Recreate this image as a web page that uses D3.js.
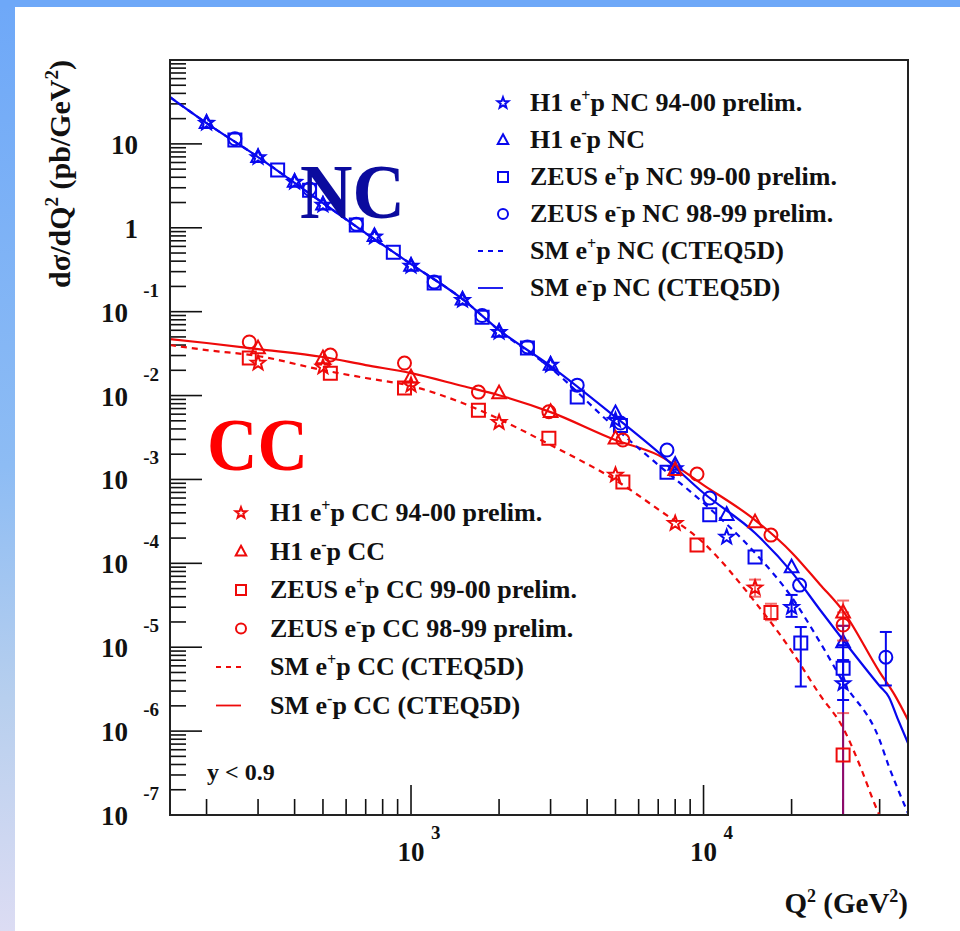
<!DOCTYPE html>
<html>
<head>
<meta charset="utf-8">
<script src="https://cdn.jsdelivr.net/npm/d3@7"></script>
<style>
  body { margin: 0; background: #fff; }
  text { font-family: "Liberation Serif", "Times New Roman", serif; font-weight: bold; fill: #111; }
</style>
</head>
<body>
<script>
// ---------- data (Q^2 in GeV^2, dsigma/dQ^2 in pb/GeV^2) ----------

// NC, H1 e+p 94-00 (open stars)
let ncH1PosQ2 = [200, 300, 400, 500, 750, 1000, 1500, 2000, 3000, 5000, 8000, 12000, 20000, 30000];
let ncH1PosXs = [17.7, 6.9, 3.5, 1.87, 0.78, 0.35, 0.137, 0.057, 0.0231, 0.0051, 0.00135, 0.000206, 3.0e-5, 3.7e-6];
let ncH1PosErr = [null, null, null, null, null, null, null, null, null, null, null, null, [2.3e-5, 4.2e-5], [1e-8, 7e-6]];

// NC, H1 e-p (open triangles)
let ncH1NegQ2 = [200, 300, 400, 500, 750, 1000, 1500, 2000, 3000, 5000, 8000, 12000, 20000, 30000];
let ncH1NegXs = [17.9, 7.0, 3.55, 1.9, 0.8, 0.355, 0.14, 0.058, 0.0235, 0.0062, 0.0015, 0.00038, 9.0e-5, 1.15e-5];
let ncH1NegErr = [null, null, null, null, null, null, null, null, null, null, null, null, null, [7e-6, 1.8e-5]];

// NC, ZEUS e+p 99-00 (open squares)
let ncZeusPosQ2 = [250, 350, 450, 650, 870, 1200, 1750, 2500, 3700, 5200, 7500, 10500, 15000, 21500, 30000];
let ncZeusPosXs = [11.1, 4.9, 2.8, 1.08, 0.51, 0.219, 0.086, 0.0368, 0.0096, 0.0044, 0.00122, 0.00038, 0.000119, 1.12e-5, 5.6e-6];
let ncZeusPosErr = [null, null, null, null, null, null, null, null, null, null, null, null, null, [3.4e-6, 1.74e-5], [2.35e-6, 1.06e-5]];

// NC, ZEUS e-p 98-99 (open circles)
let ncZeusNegQ2 = [250, 450, 650, 1200, 1750, 2500, 3700, 5200, 7500, 10500, 21300, 42000];
let ncZeusNegXs = [11.5, 2.9, 1.1, 0.225, 0.09, 0.038, 0.0133, 0.0047, 0.00224, 0.0006, 5.5e-5, 7.6e-6];
let ncZeusNegErr = [null, null, null, null, null, null, null, null, null, null, null, [3.5e-6, 1.52e-5]];

// CC, H1 e+p 94-00 (open stars)
let ccH1PosQ2 = [300, 500, 1000, 2000, 5000, 8000, 15000];
let ccH1PosXs = [0.0244, 0.0219, 0.0133, 0.0048, 0.00113, 0.0003, 5.1e-5];
let ccH1PosErr = [null, null, null, null, null, null, [4e-5, 6.4e-5]];

// CC, H1 e-p (open triangles)
let ccH1NegQ2 = [300, 500, 1000, 2000, 3000, 5000, 8000, 15000, 30000];
let ccH1NegXs = [0.0368, 0.028, 0.0166, 0.0107, 0.0064, 0.0031, 0.0013, 0.00031, 2.6e-5];
let ccH1NegErr = [null, null, null, null, null, null, null, null, [1.8e-5, 3.6e-5]];

// CC, ZEUS e+p 99-00 (open squares)
let ccZeusPosQ2 = [280, 530, 950, 1700, 2960, 5300, 9500, 17000, 30000];
let ccZeusPosXs = [0.028, 0.0185, 0.0123, 0.0067, 0.0031, 0.00093, 0.000165, 2.6e-5, 5.2e-7];
let ccZeusPosErr = [null, null, null, null, null, null, null, [2.1e-5, 3.3e-5], [1e-8, 1.64e-6]];

// CC, ZEUS e-p 98-99 (open circles)
let ccZeusNegQ2 = [280, 530, 950, 1700, 2960, 5300, 9500, 17000, 30000];
let ccZeusNegXs = [0.0435, 0.0304, 0.0244, 0.011, 0.0064, 0.00295, 0.00116, 0.000217, 1.84e-5];
let ccZeusNegErr = [null, null, null, null, null, null, null, null, [1.2e-5, 2.6e-5]];

// Standard Model curves (CTEQ5D)
let ncSmQ2 = [150, 200, 300, 500, 700, 1000, 1500, 2000, 3000, 5000, 7000, 10000, 15000, 20000, 25000, 30000, 40000, 43000, 46000, 50000];
let ncSmNeg = [36.1, 17.7, 6.97, 1.97, 0.865, 0.369, 0.141, 0.0604, 0.0225, 0.00555, 0.00212, 0.000689, 0.00023, 7.9e-5, 2.8e-5, 1.22e-5, 3.45e-6, 2.55e-6, 1.43e-6, 7.2e-7];
let ncSmPos = [36.1, 17.7, 6.97, 1.97, 0.865, 0.369, 0.141, 0.060, 0.0213, 0.0041, 0.00149, 0.000524, 0.000133, 3.96e-5, 1.15e-5, 3.85e-6, 7.8e-7, 3.8e-7, 2.1e-7, 1.05e-7];
let ccSmNegQ2 = [150, 200, 300, 500, 700, 1000, 1500, 2000, 3000, 5000, 7000, 10000, 15000, 20000, 25000, 30000, 40000, 45000, 50000];
let ccSmNeg = [0.0471, 0.0423, 0.0358, 0.0288, 0.0231, 0.0185, 0.013, 0.0101, 0.00635, 0.00295, 0.00195, 0.000857, 0.000328, 0.000135, 5.6e-5, 2.7e-5, 5.06e-6, 2.7e-6, 1.36e-6];
let ccSmPosQ2 = [150, 200, 300, 500, 700, 1000, 1500, 2000, 3000, 5000, 7000, 10000, 15000, 20000, 25000, 30000, 35000, 38000, 41000];
let ccSmPos = [0.04, 0.0348, 0.0296, 0.0201, 0.0162, 0.013, 0.00815, 0.00525, 0.00257, 0.00098, 0.00044, 0.000175, 3.46e-5, 9.0e-6, 2.7e-6, 1.09e-6, 3.2e-7, 1.5e-7, 8e-8];

// axis labels
let yLabelExps = [-7, -6, -5, -4, -3, -2, -1, 0, 1];
let xLabelExps = [3, 4];

let ncLegendLabels = ["H1 e^{+}p NC 94-00 prelim.", "H1 e^{-}p NC", "ZEUS e^{+}p NC 99-00 prelim.", "ZEUS e^{-}p NC 98-99 prelim.", "SM e^{+}p NC (CTEQ5D)", "SM e^{-}p NC (CTEQ5D)"];
let ccLegendLabels = ["H1 e^{+}p CC 94-00 prelim.", "H1 e^{-}p CC", "ZEUS e^{+}p CC 99-00 prelim.", "ZEUS e^{-}p CC 98-99 prelim.", "SM e^{+}p CC (CTEQ5D)", "SM e^{-}p CC (CTEQ5D)"];
let legendKinds = ['star', 'triangle', 'square', 'circle', 'dash', 'line'];

// ---------- drawing ----------
const BLUE = '#0808ee', RED = '#ee0a0a';
const W = 960, H = 931;

let svg = d3.select('body').append('svg').attr('width', W).attr('height', H);

// slide background
let defs = svg.append('defs');
let grad = defs.append('linearGradient').attr('id', 'bg').attr('x1', 0).attr('y1', 0).attr('x2', 0).attr('y2', 1);
grad.append('stop').attr('offset', '0%').attr('stop-color', '#6ea8f8');
grad.append('stop').attr('offset', '50%').attr('stop-color', '#8dbcf4');
grad.append('stop').attr('offset', '75%').attr('stop-color', '#b7cfee');
grad.append('stop').attr('offset', '100%').attr('stop-color', '#dcdcf3');
svg.append('rect').attr('width', W).attr('height', H).attr('fill', 'url(#bg)');
svg.append('rect').attr('width', W).attr('height', 7).attr('fill', '#6ea8f8');
svg.append('rect').attr('x', 15).attr('y', 7).attr('width', W - 15).attr('height', H - 7).attr('fill', '#fff');

let x = d3.scaleLog().domain([150, 50000]).range([170, 908]);
let y = d3.scaleLog().domain([1e-7, 100]).range([815, 60]);

defs.append('clipPath').attr('id', 'plot')
    .append('rect').attr('x', 170).attr('y', 60).attr('width', 738).attr('height', 755);

// ticks
let tickG = svg.append('g').attr('stroke', '#111').attr('stroke-width', 1.6);
y.ticks().forEach(t => {
    let major = Math.abs(Math.log10(t) - Math.round(Math.log10(t))) < 1e-6;
    tickG.append('line').attr('x1', 170).attr('x2', 170 + (major ? 32 : 16))
        .attr('y1', y(t)).attr('y2', y(t));
});
x.ticks().forEach(t => {
    let major = Math.abs(Math.log10(t) - Math.round(Math.log10(t))) < 1e-6;
    tickG.append('line').attr('y1', 815).attr('y2', 815 - (major ? 30 : 16))
        .attr('x1', x(t)).attr('x2', x(t));
});

// rich text with ^{} superscripts
function richText(sel, str, supSize, shift) {
    let parts = str.split(/\^\{([^}]*)\}/);
    let cur = 0;
    parts.forEach((p, i) => {
        if (p === '') return;
        let want = (i % 2 === 1) ? -shift : 0;
        let ts = sel.append('tspan').text(p).attr('dy', want - cur);
        if (i % 2 === 1) ts.attr('font-size', supSize);
        cur = want;
    });
    return sel;
}

// y tick labels
yLabelExps.forEach(e => {
    let yy = y(Math.pow(10, e));
    if (e === 1 || e === 0) {
        svg.append('text').attr('x', 138).attr('y', yy + 10).attr('text-anchor', 'end')
            .attr('font-size', 27).text(e === 1 ? '10' : '1');
    } else {
        svg.append('text').attr('x', 128).attr('y', yy + 10).attr('text-anchor', 'end')
            .attr('font-size', 27).text('10');
        svg.append('text').attr('x', 159).attr('y', yy - 15).attr('text-anchor', 'end')
            .attr('font-size', 19).text(String(e));
    }
});
// x tick labels
xLabelExps.forEach(e => {
    let xx = x(Math.pow(10, e));
    svg.append('text').attr('x', xx).attr('y', 861).attr('text-anchor', 'middle')
        .attr('font-size', 27).text('10');
    svg.append('text').attr('x', xx + 20).attr('y', 839).attr('font-size', 19).text(String(e));
});

// axis titles
richText(svg.append('text').attr('transform', 'translate(70,60) rotate(-90)')
    .attr('text-anchor', 'end').attr('font-size', 30), 'd\u03c3/dQ^{2} (pb/GeV^{2})', 19, 12);
richText(svg.append('text').attr('x', 908).attr('y', 913).attr('text-anchor', 'end')
    .attr('font-size', 29), 'Q^{2} (GeV^{2})', 18, 11);

// marker shapes
function shapePath(type, r) {
    if (type === 'square') return `M${-r},${-r}H${r}V${r}H${-r}Z`;
    if (type === 'triangle') return `M0,${-r * 1.15}L${r * 1.05},${r * 0.8}L${-r * 1.05},${r * 0.8}Z`;
    if (type === 'circle') return d3.symbol(d3.symbolCircle, Math.PI * r * r)();
    let pts = [];
    for (let i = 0; i < 10; i++) {
        let a = -Math.PI / 2 + i * Math.PI / 5;
        let rr = i % 2 ? r * 0.48 : r * 1.15;
        pts.push([(rr * Math.cos(a)).toFixed(2), (rr * Math.sin(a)).toFixed(2)]);
    }
    return 'M' + pts.join('L') + 'Z';
}

let plot = svg.append('g').attr('clip-path', 'url(#plot)');

// SM curves
let line = d3.line().x(d => x(d[0])).y(d => y(d[1])).curve(d3.curveMonotoneX);
function addCurve(q, v, color, dashed) {
    plot.append('path').datum(d3.zip(q, v)).attr('d', line)
        .attr('fill', 'none').attr('stroke', color).attr('stroke-width', 2.2)
        .attr('stroke-dasharray', dashed ? '6,5' : null);
}
addCurve(ccSmNegQ2, ccSmNeg, RED, false);
addCurve(ccSmPosQ2, ccSmPos, RED, true);
addCurve(ncSmQ2, ncSmNeg, BLUE, false);
addCurve(ncSmQ2, ncSmPos, BLUE, true);

// data points
function addSeries(q, v, err, type, color, errOpacity) {
    let g = plot.append('g').attr('stroke', color).attr('stroke-width', 2).attr('fill', 'none');
    let withErr = d3.zip(q, v, err).filter(d => d[2]);
    let eg = g.append('g').attr('opacity', errOpacity);
    eg.selectAll('line.bar').data(withErr).join('line').attr('class', 'bar')
        .attr('x1', d => x(d[0])).attr('x2', d => x(d[0]))
        .attr('y1', d => y(d[2][0])).attr('y2', d => y(d[2][1]));
    eg.selectAll('line.cap').data(withErr.flatMap(d => [[d[0], d[2][0]], [d[0], d[2][1]]]))
        .join('line').attr('class', 'cap')
        .attr('x1', d => x(d[0]) - 6).attr('x2', d => x(d[0]) + 6)
        .attr('y1', d => y(d[1])).attr('y2', d => y(d[1]));
    g.selectAll('path').data(d3.zip(q, v)).join('path')
        .attr('transform', d => `translate(${x(d[0])},${y(d[1])})`)
        .attr('d', shapePath(type, 6.5));
}
addSeries(ncZeusNegQ2, ncZeusNegXs, ncZeusNegErr, 'circle', BLUE, 1);
addSeries(ncZeusPosQ2, ncZeusPosXs, ncZeusPosErr, 'square', BLUE, 1);
addSeries(ncH1NegQ2, ncH1NegXs, ncH1NegErr, 'triangle', BLUE, 1);
addSeries(ncH1PosQ2, ncH1PosXs, ncH1PosErr, 'star', BLUE, 1);
addSeries(ccZeusNegQ2, ccZeusNegXs, ccZeusNegErr, 'circle', RED, 0.6);
addSeries(ccZeusPosQ2, ccZeusPosXs, ccZeusPosErr, 'square', RED, 0.6);
addSeries(ccH1NegQ2, ccH1NegXs, ccH1NegErr, 'triangle', RED, 0.6);
addSeries(ccH1PosQ2, ccH1PosXs, ccH1PosErr, 'star', RED, 0.6);

// frame
svg.append('rect').attr('x', 170).attr('y', 60).attr('width', 738).attr('height', 755)
    .attr('fill', 'none').attr('stroke', '#222').attr('stroke-width', 2);

// legends
function addLegend(labels, color, mx, tx, y0, dy) {
    labels.forEach((lab, i) => {
        let yy = y0 + i * dy;
        let kind = legendKinds[i];
        if (kind === 'dash' || kind === 'line') {
            svg.append('line').attr('x1', mx - 25).attr('x2', mx).attr('y1', yy).attr('y2', yy)
                .attr('stroke', color).attr('stroke-width', 1.8)
                .attr('stroke-dasharray', kind === 'dash' ? '5,5' : null);
        } else {
            svg.append('path').attr('transform', `translate(${mx},${yy})`)
                .attr('d', shapePath(kind, 5)).attr('fill', 'none')
                .attr('stroke', color).attr('stroke-width', 2);
        }
        richText(svg.append('text').attr('x', tx).attr('y', yy + 8).attr('font-size', 26), lab, 16, 10);
    });
}
addLegend(ncLegendLabels, BLUE, 503, 530, 103, 37);
addLegend(ccLegendLabels, RED, 241, 270, 513, 38.5);

// labels
svg.append('text').attr('x', 207).attr('y', 780).attr('font-size', 24).text('y < 0.9');
svg.append('text').attr('x', 300).attr('y', 218).attr('font-size', 78).style('fill', '#0b0b9e')
    .attr('textLength', 105).attr('lengthAdjust', 'spacingAndGlyphs').text('NC');
svg.append('text').attr('x', 207).attr('y', 470).attr('font-size', 74).style('fill', '#ff0000')
    .attr('textLength', 101).attr('lengthAdjust', 'spacingAndGlyphs').text('CC');
</script>
</body>
</html>
